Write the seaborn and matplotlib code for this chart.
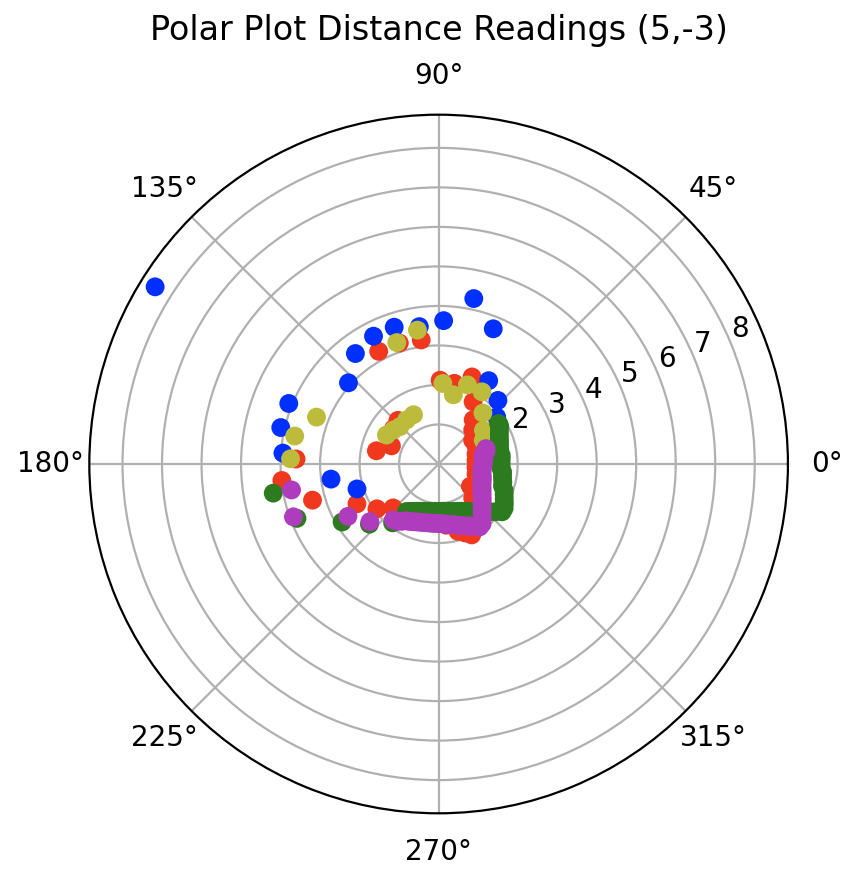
import numpy as np
import pandas as pd
import matplotlib
matplotlib.use('Agg')
import matplotlib.pyplot as plt
import seaborn as sns

# readings per run: angle in degrees, distance
red_deg = [52, 61, 69, 79, 89, 98, 108, 118, 133, 142, 159, 168, 178, 186, 196,
           206, 216, 224, 237, 247, 257, 267, 277, 286, 291, 295, 305, 315, 325,
           335, 345, 355, 5, 15, 25, 35, 45]
red_r = [1.42, 1.80, 2.36, 2.08, 2.12, 3.17, 3.22, 3.23, 1.51, 1.45, 1.28, 1.61,
         3.61, 3.99, 3.32, 2.30, 1.93, 1.60, 1.49, 1.52, 1.49, 1.50, 1.56, 1.77,
         1.87, 1.98, 1.50, 1.22, 0.98, 1.05, 0.98, 0.95, 0.95, 0.98, 1.05, 1.05,
         1.22]

blue_deg = [39, 47, 59, 68, 78, 88, 98, 108, 117, 127, 138, 148, 158, 167, 176,
            188, 197]
blue_r = [1.89, 2.20, 2.46, 3.69, 4.28, 3.63, 3.51, 3.64, 3.63, 3.50, 3.07, 8.46,
          4.09, 4.10, 3.95, 2.75, 2.16]

yellow_deg = [28, 37, 49, 59, 70, 78, 87, 99, 109, 117, 126, 136, 143, 151, 159,
              169, 178]
yellow_r = [1.28, 1.42, 1.71, 2.13, 2.13, 1.79, 2.04, 3.43, 3.25, 1.40, 1.38,
            1.36, 1.43, 1.51, 3.31, 3.71, 3.75]

green_deg = [190, 201, 211, 221, 232,
             236, 239, 242, 245, 248, 251, 254, 257, 260, 263, 266, 269, 272,
             275, 278, 281, 284, 287, 290, 293, 296, 299, 302, 305, 308, 311,
             314, 317, 320, 323, 326, 329, 332, 335, 338, 341, 344, 347, 350,
             353, 356, 359, 2, 5, 8, 11, 14, 17, 20, 23, 26, 29, 32, 34]
green_r = [4.25, 3.84, 2.85, 2.32, 1.89,
           1.45, 1.40, 1.36, 1.32, 1.29, 1.27, 1.25, 1.23, 1.22, 1.21, 1.20,
           1.20, 1.20, 1.20, 1.21, 1.22, 1.24, 1.26, 1.28, 1.30, 1.33, 1.37,
           1.42, 1.48, 1.54, 1.60, 1.68, 1.77, 1.88, 2.01, 2.00, 1.94, 1.88,
           1.83, 1.79, 1.71, 1.69, 1.66, 1.64, 1.63, 1.58, 1.58, 1.58, 1.59,
           1.60, 1.57, 1.59, 1.61, 1.64, 1.67, 1.71, 1.76, 1.82, 1.83]

magenta_deg = [190, 200, 210, 220, 231,
               234, 237, 240, 243, 246, 249, 252, 255, 258, 261, 264, 267, 270,
               273, 276, 279, 282, 285, 288, 291, 294, 297, 300, 303, 306, 309,
               312, 315, 318, 321, 324, 327, 330, 333, 336, 339, 342, 345, 348,
               351, 354, 357, 0, 3, 6, 9, 12, 15, 18]
magenta_r = [3.78, 3.91, 2.65, 2.27, 1.82,
             1.79, 1.73, 1.66, 1.63, 1.60, 1.57, 1.55, 1.53, 1.52, 1.51, 1.51,
             1.50, 1.51, 1.51, 1.53, 1.55, 1.56, 1.59, 1.63, 1.67, 1.72, 1.76,
             1.82, 1.90, 1.87, 1.75, 1.64, 1.56, 1.48, 1.42, 1.36, 1.31, 1.27,
             1.23, 1.20, 1.18, 1.16, 1.14, 1.12, 1.11, 1.11, 1.10, 1.13, 1.13,
             1.14, 1.14, 1.16, 1.24, 1.26]

run_colors = {'red': '#f0381f', 'blue': '#0030ff', 'yellow': '#bdbb3c',
              'green': '#2c7b1f', 'magenta': '#ae3cbd'}

runs = [('red', red_deg, red_r), ('blue', blue_deg, blue_r),
        ('yellow', yellow_deg, yellow_r), ('green', green_deg, green_r),
        ('magenta', magenta_deg, magenta_r)]
df = pd.concat([pd.DataFrame({'theta': np.deg2rad(d), 'r': r, 'run': name})
                for name, d, r in runs], ignore_index=True)

sns.set_style('whitegrid', rc={'axes.edgecolor': 'black', 'grid.color': '#b0b0b0',
                               'grid.linewidth': 0.8, 'axes.linewidth': 1.0,
                               'text.color': 'black', 'xtick.color': 'black',
                               'ytick.color': 'black', 'axes.labelcolor': 'black'})
plt.rcParams['font.family'] = ['DejaVu Sans']

fig = plt.figure(figsize=(4.31, 4.48), dpi=200)
ax = fig.add_axes([0.1032, 0.0923, 0.8113, 0.7797], projection='polar')

sns.scatterplot(data=df, x='theta', y='r', hue='run', palette=run_colors,
                s=46, linewidth=0, legend=False, ax=ax)

ax.set_ylim(0, 8.84)
ax.set_yticks(range(1, 9))
ax.set_xlabel('')
ax.set_ylabel('')
ax.tick_params(labelsize=10)
ax.set_title('Polar Plot Distance Readings (5,-3)', fontsize=12, pad=8)

fig.savefig('out.png', dpi=200)
